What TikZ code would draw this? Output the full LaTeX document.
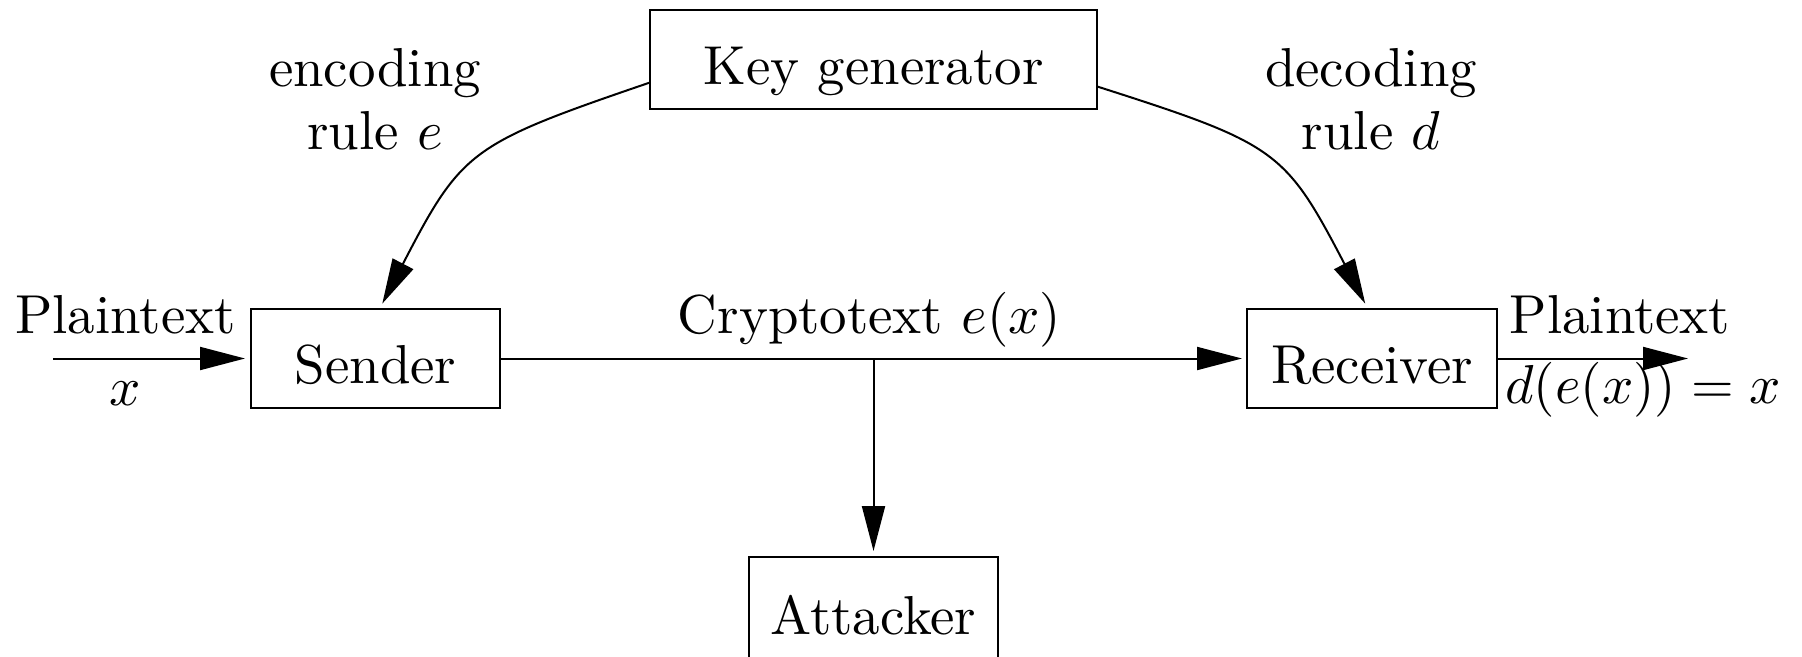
\documentclass[tikz,border=0pt]{standalone}
\usetikzlibrary{arrows.meta,calc}
\def\U{0.1823}
\begin{document}
\begin{tikzpicture}[x=\U pt,y=-\U pt, line width=\U*2pt,
  >={Triangle[length=\U*45pt,width=\U*23pt]},
  box/.style={draw, minimum height=\U*99pt, inner sep=0pt, outer sep=0pt,
    text height=\U*50pt, text depth=0pt},
  lbl/.style={anchor=base, inner sep=0pt}]
\useasboundingbox (0,0) rectangle (1802,656);
\node[box, minimum width=\U*447pt] (kg) at (873.5,59) {Key generator};
\node[box, minimum width=\U*249pt] (s) at (375.5,358.5) {Sender};
\node[box, minimum width=\U*250pt] (r) at (1372,358.5) {Receiver};
\node[box, minimum width=\U*249pt, minimum height=\U*104pt] (a) at (873.5,609) {Attacker};
\coordinate (in) at (53,358.5);
\coordinate (out) at (1688,358.5);
\coordinate (tap) at (a.north |- s.east);
\draw[->, shorten >=\U*6pt] (in) -- (s);
\draw[->, shorten >=\U*5pt] (s) -- (r);
\draw[->] (r) -- (out);
\draw[->, shorten >=\U*6pt] (tap) -- (a);
\draw[->, shorten >=\U*6pt] (kg.186.4) .. controls (470,144) and (462,150) .. ($(s.north)+(4,0)$);
\draw[->, shorten >=\U*6pt] (kg.353.6) .. controls (1277,144) and (1285,150) .. ($(r.north)+(-4,0)$);
\node[lbl] (pl) at (125.5,333) {Plaintext};
\node[lbl] (px) at (125,405) {$x$};
\node[lbl] (pr) at (1620,333) {Plaintext};
\node[lbl] (dx) at (1643,403) {$d(e(x))=x$};
\node[lbl] (ct) at (869.5,333) {Cryptotext $e(x)$};
\node[lbl] (enc1) at (375,86) {encoding};
\node[lbl] (enc2) at (375,149) {rule $e$};
\node[lbl] (dec1) at (1371,86) {decoding};
\node[lbl] (dec2) at (1371,149) {rule $d$};
\end{tikzpicture}
\end{document}
